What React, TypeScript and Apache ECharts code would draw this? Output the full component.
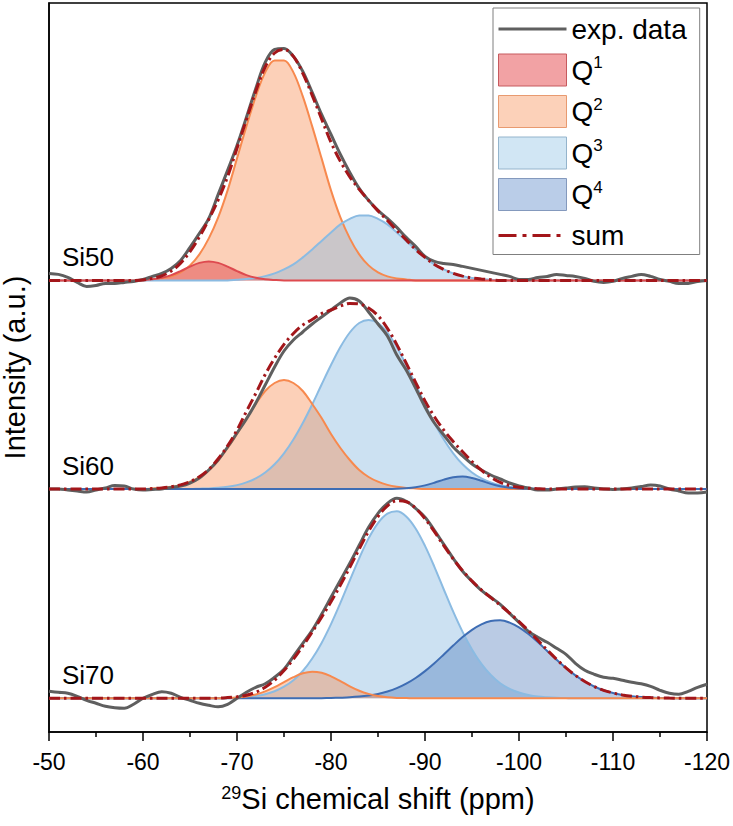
import React, { useEffect, useRef } from "react";
import * as echarts from "echarts";

// ---------- data (chemical shift grid, ppm) ----------
const ppm = [
  -50, -51, -52, -53, -54, -55, -56, -57, -58, -59,
  -60, -61, -62, -63, -64, -65, -66, -67, -68, -69,
  -70, -71, -72, -73, -74, -75, -76, -77, -78, -79,
  -80, -81, -82, -83, -84, -85, -86, -87, -88, -89,
  -90, -91, -92, -93, -94, -95, -96, -97, -98, -99,
  -100, -101, -102, -103, -104, -105, -106, -107, -108, -109,
  -110, -111, -112, -113, -114, -115, -116, -117, -118, -119,
  -120,
];

const sampleLabels = ["Si50", "Si60", "Si70"];
// vertical offsets (baselines) of the stacked spectra, a.u.
const baselines = [451.6, 243, 33.7];

// ---- Si50 ----
const si50Exp = [
  7, 6, 3, -2, -6, -5, -3, -3, -2, -1,
  1, 4, 7, 12, 20, 33, 47, 62, 86, 110,
  135, 163, 192, 218, 231, 232, 224, 209, 188, 166,
  146, 126, 108, 92, 80, 70, 62, 53, 43, 34,
  24, 19, 17, 16, 14, 12, 10, 8, 6, 4,
  1, 1, 3, 4, 6, 5, 4, 2, -1, -2,
  -1, 2, 4, 6, 4, 1, -1, -3, -3, -1,
  0,
];
const si50Q1 = [
  0, 0, 0, 0, 0, 0, 0, 0, 0, 0,
  0.4, 1.1, 2.6, 5.3, 9.3, 13.8, 17.5, 19, 17.5, 13.8,
  9.3, 5.3, 2.6, 1.1, 0.4, 0, 0, 0, 0, 0,
  0, 0, 0, 0, 0, 0, 0, 0, 0, 0,
  0, 0, 0, 0, 0, 0, 0, 0, 0, 0,
  0, 0, 0, 0, 0, 0, 0, 0, 0, 0,
  0, 0, 0, 0, 0, 0, 0, 0, 0, 0,
  0,
];
const si50Q2 = [
  0, 0, 0, 0, 0, 0, 0, 0, 0, 0,
  0, 1, 2, 4, 8, 15, 26, 42, 63, 90,
  122, 154, 184, 208, 220, 220, 208, 184, 154, 122,
  90, 63, 42, 26, 15, 8, 4, 2, 1, 0,
  0, 0, 0, 0, 0, 0, 0, 0, 0, 0,
  0, 0, 0, 0, 0, 0, 0, 0, 0, 0,
  0, 0, 0, 0, 0, 0, 0, 0, 0, 0,
  0,
];
const si50Q3 = [
  0, 0, 0, 0, 0, 0, 0, 0, 0, 0,
  0, 0, 0, 0, 0, 0, 0, 0, 0, 0,
  0.7, 1.4, 2.5, 4.3, 7, 11, 16, 23, 31, 39.5,
  48, 56, 61.5, 65, 65, 61.5, 56, 48, 39.5, 31,
  23, 16, 11, 7, 4.3, 2.5, 1.4, 0.7, 0, 0,
  0, 0, 0, 0, 0, 0, 0, 0, 0, 0,
  0, 0, 0, 0, 0, 0, 0, 0, 0, 0,
  0,
];
const si50Sum = [
  0, 0, 0, 0, 0, 0, 0, 0, 0, 0,
  0.4, 2.1, 4.6, 9.3, 17.3, 28.8, 43.5, 61, 80.5, 103.8,
  132, 160.7, 189.1, 213.4, 227.4, 231, 224, 207, 185, 161.5,
  138, 119, 103.5, 91, 80, 69.5, 60, 50, 40.5, 31,
  23, 16, 11, 7, 4.3, 2.5, 1.4, 0.7, 0, 0,
  0, 0, 0, 0, 0, 0, 0, 0, 0, 0,
  0, 0, 0, 0, 0, 0, 0, 0, 0, 0,
  0,
];

// ---- Si60 ----
const si60Exp = [
  0, 0, -1, -2, -3, -1, 1, 3.5, 3, 0,
  -1, -0.5, 0, 1.5, 3, 6, 11, 19, 29, 42,
  56, 70, 86, 104, 122, 138, 149, 157, 165, 172,
  179, 186, 191, 188, 177, 165, 153, 134, 119, 101,
  82, 66, 54, 42, 33, 25, 19, 14, 10, 6,
  3, 1, -1, -1, 0, 1, 2, 2.3, 1, 0,
  -0.5, 0, 1, 2.5, 4, 3, 0, -2, -4, -4,
  -3,
];
const si60Q2 = [
  0, 0, 0, 0, 0, 0, 0, 0, 0, 0,
  0, 0.5, 1.1, 2.2, 4.1, 7.3, 12, 19, 29, 41,
  55, 71, 85, 98, 106, 109, 106, 98, 85, 71,
  55, 41, 29, 19, 12, 7.3, 4.1, 2.2, 1.1, 0.5,
  0, 0, 0, 0, 0, 0, 0, 0, 0, 0,
  0, 0, 0, 0, 0, 0, 0, 0, 0, 0,
  0, 0, 0, 0, 0, 0, 0, 0, 0, 0,
  0,
];
const si60Q3 = [
  0, 0, 0, 0, 0, 0, 0, 0, 0, 0,
  0, 0, 0, 0, 0, 0, 0.3, 0.6, 1.2, 2.2,
  3.9, 6.6, 10.6, 16.5, 24.7, 35.7, 49.5, 66, 84.5, 104.5,
  124, 142, 156.5, 166, 169, 166, 156.5, 142, 124, 104.5,
  84.5, 66, 49.5, 35.7, 24.7, 16.5, 10.6, 6.6, 3.9, 2.2,
  1.2, 0.6, 0.3, 0, 0, 0, 0, 0, 0, 0,
  0, 0, 0, 0, 0, 0, 0, 0, 0, 0,
  0,
];
const si60Q4 = [
  0, 0, 0, 0, 0, 0, 0, 0, 0, 0,
  0, 0, 0, 0, 0, 0, 0, 0, 0, 0,
  0, 0, 0, 0, 0, 0, 0, 0, 0, 0,
  0, 0, 0, 0, 0, 0, 0, 0.2, 0.7, 1.7,
  3.6, 6.3, 9.4, 11.8, 12.5, 11, 8.2, 5.1, 2.7, 1.2,
  0.5, 0.2, 0, 0, 0, 0, 0, 0, 0, 0,
  0, 0, 0, 0, 0, 0, 0, 0, 0, 0,
  0,
];
const si60Sum = [
  0, 0, 0, 0, 0, 0, 0, 0, 0, 0,
  0, 0.5, 1.1, 2.2, 4.1, 7.3, 12.3, 19.6, 30.2, 43.2,
  58.9, 77.6, 95.6, 114.5, 130.7, 144.7, 155.5, 164, 169.5, 175.5,
  179, 183, 185.5, 185, 181, 173.3, 160.6, 144.4, 125.8, 106.7,
  88.1, 72.3, 58.9, 47.5, 37.2, 27.5, 18.8, 11.7, 6.6, 3.4,
  1.7, 0.8, 0.3, 0, 0, 0, 0, 0, 0, 0,
  0, 0, 0, 0, 0, 0, 0, 0, 0, 0,
  0,
];

// ---- Si70 ----
const si70Exp = [
  7, 6, 5, 2, -2, -5, -8, -9.5, -10, -6,
  0, 4, 6.5, 5, 1, -2, -5, -7, -8.5, -6,
  0, 6, 11, 14.5, 21, 29, 42, 55, 68, 84,
  101, 118, 135, 153, 171, 185, 195, 200, 197, 190,
  181, 168, 154, 140, 127, 117, 108, 101, 94, 85,
  76, 67, 61, 56, 50, 44, 35, 28, 24, 21,
  20, 18, 16, 14.5, 12, 8, 5, 4, 7, 11,
  14,
];
const si70Q2 = [
  0, 0, 0, 0, 0, 0, 0, 0, 0, 0,
  0, 0, 0, 0, 0, 0, 0, 0, 0.1, 0.4,
  0.9, 1.9, 3.8, 6.9, 11.1, 16.1, 21.1, 25, 26.6, 25.5,
  22, 17.2, 12, 7.6, 4.4, 2.2, 1, 0.4, 0.2, 0,
  0, 0, 0, 0, 0, 0, 0, 0, 0, 0,
  0, 0, 0, 0, 0, 0, 0, 0, 0, 0,
  0, 0, 0, 0, 0, 0, 0, 0, 0, 0,
  0,
];
const si70Q3 = [
  0, 0, 0, 0, 0, 0, 0, 0, 0, 0,
  0, 0, 0, 0, 0, 0, 0, 0, 0, 0.3,
  0.6, 1.2, 2.3, 4.1, 7.1, 11.6, 18.1, 27.3, 39.8, 55.4,
  74.2, 95.4, 118, 140, 159.9, 175.2, 184.6, 187, 181.8, 169.8,
  152.4, 131.5, 108.8, 86.6, 66.4, 48.8, 34.4, 23.4, 15.1, 9.5,
  5.8, 3.4, 1.8, 1, 0.5, 0.2, 0, 0, 0, 0,
  0, 0, 0, 0, 0, 0, 0, 0, 0, 0,
  0,
];
const si70Q4 = [
  0, 0, 0, 0, 0, 0, 0, 0, 0, 0,
  0, 0, 0, 0, 0, 0, 0, 0, 0, 0,
  0, 0, 0, 0, 0, 0, 0, 0, 0, 0.1,
  0.3, 0.6, 1, 1.7, 2.8, 4.4, 6.8, 10.1, 14.6, 20.3,
  27.2, 35.1, 43.8, 52.7, 61.2, 68.5, 74, 77.3, 78, 75.7,
  71, 64.3, 56.2, 47.3, 38.5, 30.2, 22.9, 16.8, 11.8, 8,
  5.3, 3.4, 2.1, 1.2, 0.7, 0.4, 0.2, 0.1, 0, 0,
  0,
];
const si70Sum = [
  0, 0, 0, 0, 0, 0, 0, 0, 0, 0,
  0, 0, 0, 0, 0, 0, 0, 0, 0.1, 0.7,
  1.5, 3.1, 6.1, 11, 18.2, 27.7, 39.2, 52.3, 66.4, 81,
  96.5, 113.2, 131, 149.3, 167.1, 181.8, 192.4, 197.5, 196.6, 190.1,
  179.6, 166.6, 152.6, 139.3, 127.6, 117.3, 108.4, 100.7, 93.1, 85.2,
  76.8, 67.7, 58, 48.3, 39, 30.4, 22.9, 16.8, 11.8, 8,
  5.3, 3.4, 2.1, 1.2, 0.7, 0.4, 0.2, 0.1, 0, 0,
  0,
];

const legendNames = ["exp. data", "Q1", "Q2", "Q3", "Q4", "sum"];

// ---------- styles ----------
const FONT = '"Liberation Sans", Arial, Helvetica, sans-serif';
const EXP_COLOR = "#5f5f5f";
const SUM_COLOR = "#a3161a";
const compStyle: Record<string, { line: string; fill: string; legendFill: string; legendBorder: string }> = {
  Q1: { line: "#de4a4f", fill: "rgba(224,71,76,0.5)", legendFill: "#f2a2a4", legendBorder: "#c65a5e" },
  Q2: { line: "#f7894e", fill: "rgba(247,137,78,0.4)", legendFill: "#fcd1b9", legendBorder: "#e89a70" },
  Q3: { line: "#8bbbe2", fill: "rgba(134,184,224,0.42)", legendFill: "#d1e6f4", legendBorder: "#94b4cc" },
  Q4: { line: "#3e6db4", fill: "rgba(63,111,181,0.36)", legendFill: "#bacde8", legendBorder: "#8499bd" },
};

const spectra = [
  { label: sampleLabels[0], offset: baselines[0], exp: si50Exp, sum: si50Sum,
    comps: [ ["Q2", si50Q2], ["Q3", si50Q3], ["Q1", si50Q1] ] as [string, number[]][] },
  { label: sampleLabels[1], offset: baselines[1], exp: si60Exp, sum: si60Sum,
    comps: [ ["Q3", si60Q3], ["Q2", si60Q2], ["Q4", si60Q4] ] as [string, number[]][] },
  { label: sampleLabels[2], offset: baselines[2], exp: si70Exp, sum: si70Sum,
    comps: [ ["Q3", si70Q3], ["Q4", si70Q4], ["Q2", si70Q2] ] as [string, number[]][] },
];

function buildOption() {
  const series: any[] = [];
  spectra.forEach((sp) => {
    sp.comps.forEach(([key, vals]) => {
      const st = compStyle[key];
      series.push({
        name: key,
        type: "line",
        data: ppm.map((x, i) => [x, vals[i] + sp.offset]),
        smooth: 0.35,
        symbol: "none",
        showSymbol: false,
        silent: true,
        lineStyle: { color: st.line, width: 2 },
        itemStyle: { color: st.line },
        areaStyle: { color: st.fill, origin: sp.offset, opacity: 1 },
      });
    });
    series.push({
      name: "exp. data",
      type: "line",
      data: ppm.map((x, i) => [x, sp.exp[i] + sp.offset]),
      smooth: 0.35,
      symbol: "none",
      showSymbol: false,
      silent: true,
      lineStyle: { color: EXP_COLOR, width: 3 },
      itemStyle: { color: EXP_COLOR },
      markPoint: {
        symbol: "rect",
        symbolSize: 0,
        silent: true,
        data: [{ coord: [ppm[0], sp.offset], value: 0 }],
        label: {
          show: true,
          formatter: sp.label,
          position: "inside",
          align: "left",
          verticalAlign: "middle",
          offset: [13, -23],
          fontSize: 26,
          fontFamily: FONT,
          color: "#000",
        },
      },
    });
    series.push({
      name: "sum",
      type: "line",
      data: ppm.map((x, i) => [x, sp.sum[i] + sp.offset]),
      smooth: 0.35,
      symbol: "none",
      showSymbol: false,
      silent: true,
      lineStyle: { color: SUM_COLOR, width: 3, type: [11, 4, 2.5, 4] },
      itemStyle: { color: SUM_COLOR },
    });
  });

  const legendData = legendNames.map((n) => {
    if (n === "exp. data") {
      return { name: n, itemStyle: { opacity: 0 }, lineStyle: { color: EXP_COLOR, width: 3, type: "solid" } };
    }
    if (n === "sum") {
      return { name: n, itemStyle: { opacity: 0 }, lineStyle: { color: SUM_COLOR, width: 3, type: [18, 6, 4, 6] } };
    }
    const st = compStyle[n];
    return { name: n, icon: "rect", itemStyle: { color: st.legendFill, borderColor: st.legendBorder, borderWidth: 1 } };
  });

  return {
    animation: false,
    backgroundColor: "#fff",
    grid: {
      left: 49,
      right: 26,
      top: 3,
      bottom: 94,
      show: true,
      borderColor: "#000",
      borderWidth: 1.5,
      backgroundColor: "transparent",
      containLabel: false,
      outerBoundsMode: "none",
    },
    legend: {
      orient: "vertical",
      left: 493,
      top: 8,
      padding: [5, 13, 3, 4],
      itemGap: 8.5,
      itemWidth: 68,
      itemHeight: 32,
      borderColor: "#7f7f7f",
      borderWidth: 1,
      backgroundColor: "#fff",
      selectedMode: false,
      data: legendData,
      formatter: (name: string) =>
        name.length === 2 && name[0] === "Q" ? `Q{sup|${name[1]}}` : name,
      textStyle: {
        fontSize: 28,
        fontFamily: FONT,
        color: "#000",
        lineHeight: 32,
        rich: {
          sup: { fontSize: 17, fontFamily: FONT, color: "#000", verticalAlign: "top", lineHeight: 24 },
        },
      },
    },
    xAxis: {
      type: "value",
      min: -120,
      max: -50,
      interval: 10,
      inverse: true,
      name: "{sup|29}Si chemical shift (ppm)",
      nameLocation: "middle",
      nameGap: 52,
      nameTextStyle: {
        fontSize: 29,
        fontFamily: FONT,
        color: "#000",
        rich: {
          sup: { fontSize: 18, fontFamily: FONT, color: "#000", verticalAlign: "top" },
        },
      },
      axisLine: { show: true, lineStyle: { color: "#000", width: 1.5 } },
      axisTick: { show: true, inside: false, length: 9, lineStyle: { color: "#000", width: 1.5 } },
      minorTick: { show: true, splitNumber: 2, length: 5, lineStyle: { color: "#000", width: 1.5 } },
      splitLine: { show: false },
      minorSplitLine: { show: false },
      axisLabel: { fontSize: 23, fontFamily: FONT, color: "#000", margin: 18 },
    },
    yAxis: {
      type: "value",
      min: 0,
      max: 729,
      name: "Intensity (a.u.)",
      nameLocation: "middle",
      nameRotate: 90,
      nameGap: 20,
      nameTextStyle: { fontSize: 29, fontFamily: FONT, color: "#000" },
      axisLine: { show: true, lineStyle: { color: "#000", width: 1.5 } },
      axisTick: { show: false },
      axisLabel: { show: false },
      splitLine: { show: false },
    },
    series,
  };
}

export default function App() {
  const ref = useRef<HTMLDivElement>(null);
  useEffect(() => {
    if (!ref.current) return;
    const chart = echarts.init(ref.current, undefined, { renderer: "svg" });
    chart.setOption(buildOption() as any);
    return () => chart.dispose();
  }, []);
  return (
    <div
      ref={ref}
      style={{ position: "fixed", left: 0, top: 0, width: 733, height: 826, background: "#fff" }}
    />
  );
}
